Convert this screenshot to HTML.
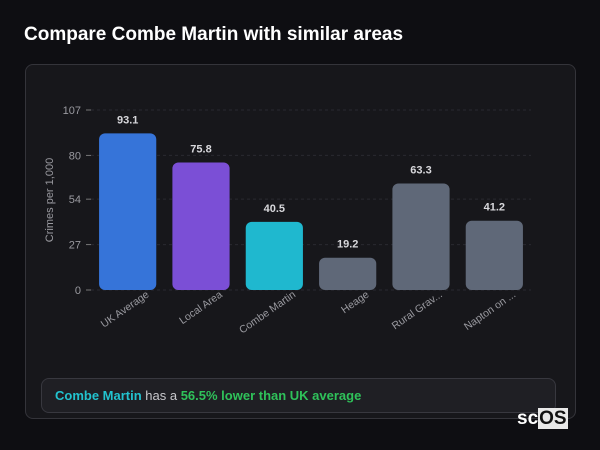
<!DOCTYPE html>
<html><head><meta charset="utf-8"><style>
body{margin:0;width:600px;height:450px;background:#0e0e12;font-family:"Liberation Sans","DejaVu Sans",sans-serif;overflow:hidden;position:relative}
#title{position:absolute;left:24px;top:24px;color:#fff;font-size:19px;font-weight:bold;margin:0}
#card{position:absolute;left:25px;top:64px;width:549px;height:353px;background:#17171b;border:1px solid #34343a;border-radius:8px}
#note{position:absolute;left:41px;top:378px;width:515px;height:35px;background:#1f1f24;border:1px solid #38383f;border-radius:8px;box-sizing:border-box;color:#c8c8cc;font-size:13px;line-height:33px;padding-left:13px}
#note b.a{color:#22c3cf}#note b.b{color:#2fc25a}
#logo{position:absolute;left:517px;top:408px;color:#fff;font-size:19px;font-weight:bold}
#logo span{background:#e8e8e8;color:#111;padding:0 1px}
</style></head><body>
<h1 id="title">Compare Combe Martin with similar areas</h1>
<div id="card"></div>
<svg id="chart" width="600" height="450" style="position:absolute;left:0;top:0"></svg>
<div id="note"><b class="a">Combe Martin</b> has a <b class="b">56.5% lower than UK average</b></div>
<div id="logo">sc<span>OS</span></div>
<script>
const categories=["UK Average","Local Area","Combe Martin","Heage","Rural Grav...","Napton on ..."];
const values=[93.1,75.8,40.5,19.2,63.3,41.2];
const colors=["#3674d9","#7b4fd6","#1fb8cf","#5f6878","#5f6878","#5f6878"];
const ticks=[0,27,54,80,107];
const NS="http://www.w3.org/2000/svg";
const svg=document.getElementById('chart');
const x0=91,x1=531,y0=290,y1=110,yMax=107;
const band=(x1-x0)/categories.length;
const y=v=>y0-(v/yMax)*(y0-y1);
const xc=i=>x0+band*(i+0.5);
function mk(t,a){const e=document.createElementNS(NS,t);for(const k in a)e.setAttribute(k,a[k]);svg.appendChild(e);return e;}
ticks.forEach(t=>{
 const g=mk('line',{x1:x0,x2:x1,y1:y(t),y2:y(t),stroke:'#2a2a30','stroke-dasharray':'3,3'});
 
 
 const tk=mk('line',{x1:x0-5,x2:x0,y1:y(t),y2:y(t),stroke:'#777'});
 
 
 const l=mk('text',{x:x0-10,y:y(t)+4,'text-anchor':'end',fill:'#9a9aa0','font-size':'11'});
 l.textContent=t;
 
 
});
const yt=mk('text',{x:0,y:0,transform:'translate(53,200) rotate(-90)','text-anchor':'middle',fill:'#9a9aa0','font-size':'11'});
yt.textContent='Crimes per 1,000';


const bw=band*0.78;
categories.forEach((c,i)=>{
 const r=mk('rect',{x:xc(i)-bw/2,y:y(values[i]),width:bw,height:y0-y(values[i]),rx:6,fill:colors[i]});
 
 
 const v=mk('text',{x:xc(i),y:y(values[i])-10,'text-anchor':'middle',fill:'#d8d8dc','font-size':'11','font-weight':'bold'});
 v.textContent=values[i].toFixed(1);
 
 
 const l=mk('text',{x:0,y:0,transform:`translate(${xc(i)+22},${y0+6}) rotate(-35)`,'text-anchor':'end',fill:'#9a9aa0','font-size':'10.5'});
 l.textContent=c;
 
 
});
</script>
</body></html>
